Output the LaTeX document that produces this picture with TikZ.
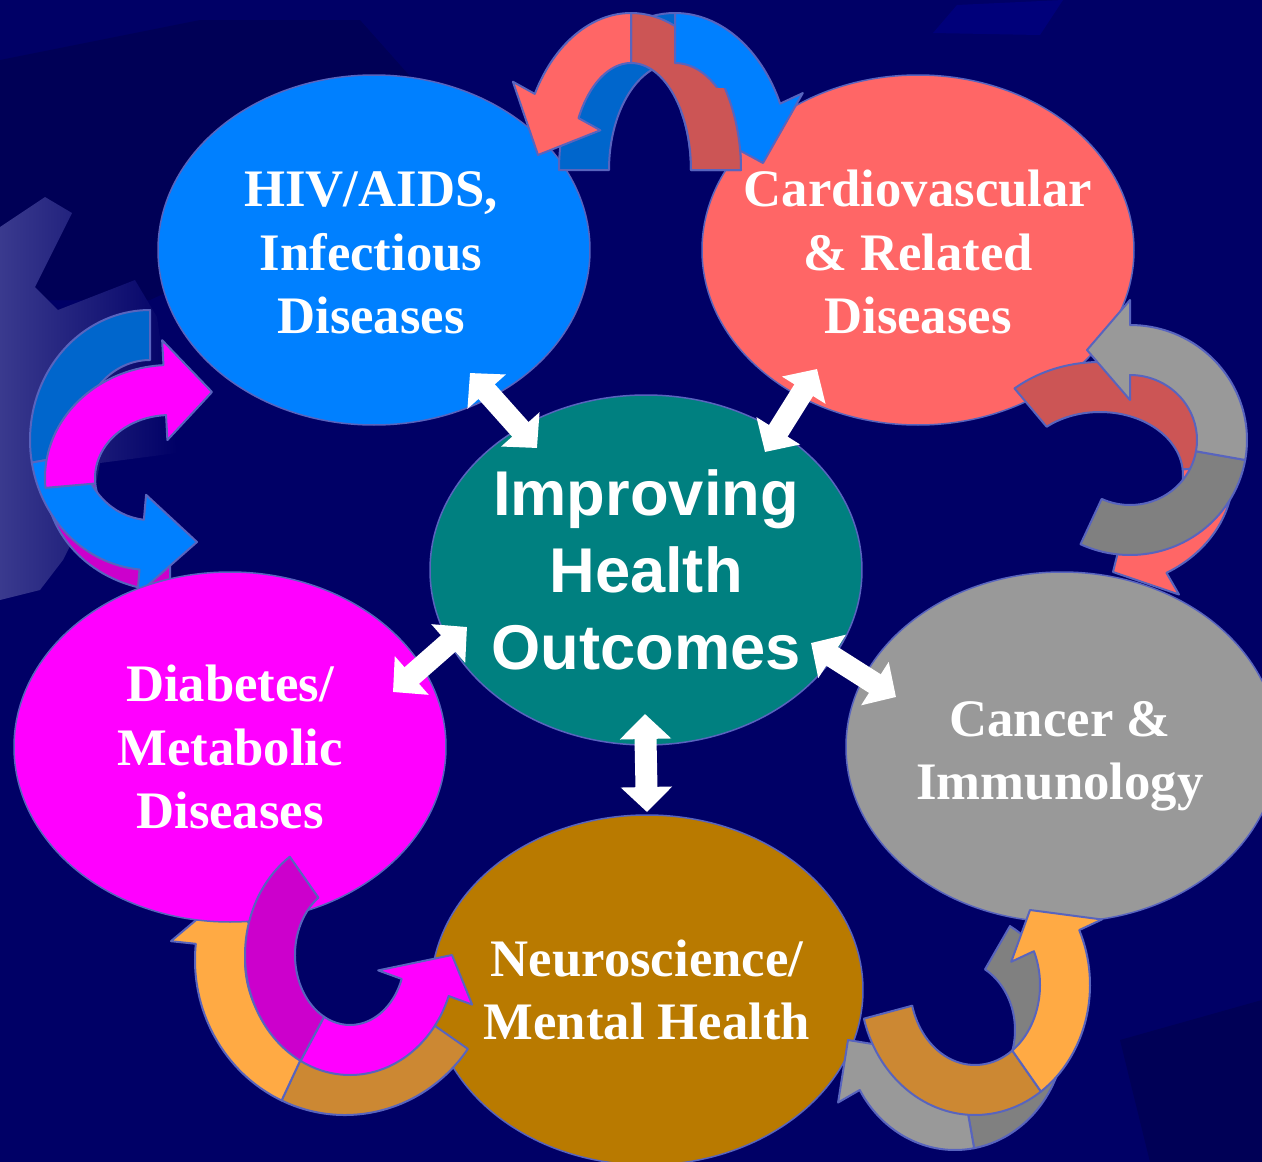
\documentclass[tikz,border=0pt]{standalone}
\usepackage{fontspec}
\setmainfont{Liberation Serif}
\newfontfamily\corefont{Liberation Sans}
\usetikzlibrary{arrows.meta,shapes.geometric}

\definecolor{navy}{RGB}{0,0,102}
\definecolor{navydk}{RGB}{0,0,86}
\definecolor{navylt}{RGB}{0,0,122}
\definecolor{gearlit}{RGB}{58,58,142}
\definecolor{edge}{RGB}{88,100,190}
\definecolor{bluelt}{RGB}{0,128,255}
\definecolor{bluedk}{RGB}{0,102,204}
\definecolor{redlt}{RGB}{255,102,102}
\definecolor{reddk}{RGB}{204,85,85}
\definecolor{graylt}{RGB}{153,153,153}
\definecolor{graydk}{RGB}{128,128,128}
\definecolor{orangelt}{RGB}{255,170,68}
\definecolor{orangedk}{RGB}{204,136,51}
\definecolor{magentalt}{RGB}{255,0,255}
\definecolor{magentadk}{RGB}{204,0,204}
\definecolor{coreteal}{RGB}{0,128,128}
\definecolor{neurobrown}{RGB}{185,122,0}

% curved band: colour, cx, cy, rx, ry, start angle, end angle
\newcommand{\ribbon}[7]{%
  \begin{scope}[shift={(#2,#3)}]
    \filldraw[ribbon, fill=#1] ({(#4+25)*cos(#6)},{(#5+25)*sin(#6)})
      arc[start angle=#6, end angle=#7, x radius=#4+25, y radius=#5+25]
      -- ({(#4-25)*cos(#7)},{(#5-25)*sin(#7)})
      arc[start angle=#7, end angle=#6, x radius=#4-25, y radius=#5-25] -- cycle;
  \end{scope}}
% same band ending in a head, #8 = tip relative to the centre
\newcommand{\ribbonhead}[8]{%
  \begin{scope}[shift={(#2,#3)}]
    \filldraw[ribbon, fill=#1] ({(#4+25)*cos(#6)},{(#5+25)*sin(#6)})
      arc[start angle=#6, end angle=#7, x radius=#4+25, y radius=#5+25]
      -- ({(#4+50)*cos(#7)},{(#5+50)*sin(#7)}) -- (#8)
      -- ({(#4-50)*cos(#7)},{(#5-50)*sin(#7)})
      -- ({(#4-25)*cos(#7)},{(#5-25)*sin(#7)})
      arc[start angle=#7, end angle=#6, x radius=#4-25, y radius=#5-25] -- cycle;
  \end{scope}}

\tikzset{
  topic/.style={ellipse, draw=edge, line width=0.15mm, minimum width=43.2mm,
    minimum height=35mm, inner sep=0pt},
  topictext/.style={align=center, text=white, inner sep=0pt,
    font=\bfseries\fontsize{15}{18}\selectfont},
  coretext/.style={topictext, font=\corefont\bfseries\fontsize{18}{22}\selectfont},
  ribbon/.style={draw=edge, line width=0.2mm, line join=round},
  dbl/.style={draw=white, line width=2.2mm,
    {Triangle[length=2.5mm,width=5mm]}-{Triangle[length=2.5mm,width=5mm]}},
}

\begin{document}
\begin{tikzpicture}[x=0.1mm, y=-0.1mm]
    \useasboundingbox (0,0) rectangle (1262,1162);
    % background
    \fill[navy] (0,0) rectangle (1262,1162);
    \fill[navydk] (0,60) -- (200,20) -- (360,20) -- (440,110) -- (300,230) -- (150,300) -- (0,300) -- cycle;
    \fill[navylt] (933,33) -- (957,5) -- (1063,0) -- (1040,35) -- cycle;
    \fill[navydk] (1120,1040) -- (1262,1000) -- (1262,1162) -- (1150,1162) -- cycle;
    \shade[left color=gearlit, right color=navy] (0,227) -- (45,197) -- (72,213) -- (35,287)
      -- (58,310) -- (135,280) -- (157,317) -- (177,453) -- (100,463) -- (93,500)
      -- (63,560) -- (40,590) -- (0,600) -- cycle;

    % topic ellipses
    \node[topic, fill=bluelt, label={[topictext, xshift=-0.3mm, yshift=-0.3mm]center:{HIV/AIDS,\\Infectious\\Diseases}}] (hiv) at (374,250) {};
    \node[topic, fill=redlt, label={[topictext, yshift=-0.2mm]center:{Cardiovascular\\\& Related\\Diseases}}] (cardio) at (918,250) {};
    \node[topic, fill=graylt, label={[topictext, xshift=-0.2mm, yshift=-0.9mm]center:{Cancer \&\\Immunology}}] (cancer) at (1062,747) {};
    \node[topic, fill=neurobrown, label={[topictext]center:{Neuroscience/\\Mental Health}}] (neuro) at (647,990) {};
    \node[topic, fill=coreteal, label={[coretext]center:{Improving\\Health\\Outcomes}}] (core) at (646,570) {};

    % top pair
    \ribbon{bluedk}{675}{170}{91}{132}{180}{270}
    \ribbon{reddk}{631}{170}{85}{132}{0}{-90}
    \ribbonhead{bluelt}{675}{170}{91}{132}{270}{335}{88,-7}
    \begin{scope}
      \clip (680,88) rectangle (780,200);
      \ribbon{reddk}{631}{170}{85}{132}{0}{-90}
    \end{scope}
    \ribbonhead{redlt}{631}{170}{85}{132}{-90}{-151}{-93,-15}

    % right pair
    \ribbon{reddk}{1100}{475}{108}{88}{-130}{-5}
    \ribbonhead{redlt}{1100}{475}{108}{88}{-5}{60}{13,97}
    \ribbon{graydk}{1130}{440}{92}{90}{115}{10}
    \ribbonhead{graylt}{1130}{440}{92}{90}{10}{-90}{-43,-90}

    % bottom right pair
    \ribbon{graydk}{955}{1030}{85}{95}{-60}{80}
    \ribbonhead{graylt}{955}{1030}{85}{95}{80}{150}{-107,10}
    \ribbon{orangedk}{975}{985}{90}{105}{165}{55}
    \ribbonhead{orangelt}{975}{985}{90}{105}{55}{-25}{55,-75}

    % left pair
    \ribbon{bluedk}{150}{440}{95}{105}{-90}{-190}
    \ribbon{magentadk}{170}{478}{100}{88}{90}{175}
    \ribbonhead{bluelt}{150}{440}{95}{105}{-190}{-265}{47,102}
    \ribbonhead{magentalt}{170}{478}{100}{88}{175}{267}{42,-86}

    % bottom left pair
    \ribbon{orangedk}{345}{960}{125}{130}{35}{115}
    \ribbonhead{orangelt}{345}{960}{125}{130}{115}{186}{-118,-66}

    \node[topic, fill=magentalt, label={[topictext]center:{Diabetes/\\Metabolic\\Diseases}}] (diab) at (230,747) {};

    \ribbon{magentadk}{350}{955}{80}{95}{235}{118}
    \ribbonhead{magentalt}{350}{955}{80}{95}{118}{20}{102,0}

    % links to the centre
    \draw[dbl] ([shift={(96,123)}]hiv.center) -- ([shift={(-109,-122)}]core.center);
    \draw[dbl] ([shift={(-101,119)}]cardio.center) -- ([shift={(119,-118)}]core.center);
    \draw[dbl] ([shift={(163,-55)}]diab.center) -- ([shift={(-179,57)}]core.center);
    \draw[dbl] ([shift={(165,73)}]core.center) -- ([shift={(-166,-50)}]cancer.center);
    \draw[dbl] ([shift={(-1,144)}]core.center) -- ([shift={(0,-178)}]neuro.center);
\end{tikzpicture}
\end{document}
